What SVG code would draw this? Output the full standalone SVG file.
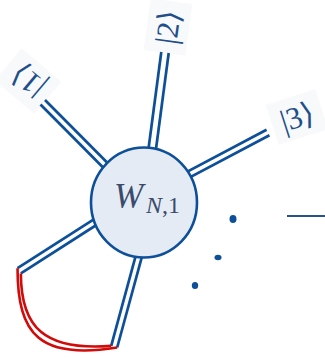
<svg xmlns="http://www.w3.org/2000/svg" width="325" height="358" viewBox="0 0 325 358">
<style>
.leg{stroke:#0d4f98;stroke-width:2.7;fill:none;stroke-linecap:butt}
.red{stroke:#d10a0a;stroke-width:2.6;fill:none}
.lbl{font-family:"Liberation Serif","DejaVu Serif",serif;font-size:31px;fill:#1e4f8a;text-anchor:middle;dominant-baseline:central}
.lbg{fill:#f8f9fa}
.dot{fill:#0d4f98}
</style>
<rect width="325" height="358" fill="#ffffff"/>
<g id="labels">
<g id="label1" transform="translate(28,81) rotate(-140)"><rect class="lbg" x="-26" y="-21" width="52" height="42"/><text class="lbl" x="0" y="0">|1⟩</text></g>
<g id="label2" transform="translate(168,27) rotate(-82)"><rect class="lbg" x="-26" y="-21" width="52" height="42"/><text class="lbl" x="0" y="0">|2⟩</text></g>
<g id="label3" transform="translate(297,117) rotate(-18)"><rect class="lbg" x="-26" y="-21" width="52" height="42"/><text class="lbl" x="0" y="0">|3⟩</text></g>
</g>
<g id="connectors">
<line class="leg" x1="45.0" y1="99.98" x2="122.26" y2="177.73"/>
<line class="leg" x1="40.49" y1="104.52" x2="117.74" y2="182.27"/>
<line class="leg" x1="168.7" y1="53.0" x2="150.5" y2="190.5"/>
<line class="leg" x1="161.3" y1="52.0" x2="143.1" y2="189.5"/>
<line class="leg" x1="266.55" y1="129.76" x2="158.55" y2="186.86"/>
<line class="leg" x1="269.45" y1="135.24" x2="161.45" y2="192.34"/>
<line class="leg" x1="17.53" y1="268.19" x2="113.33" y2="206.79"/>
<line class="leg" x1="20.87" y1="273.41" x2="116.67" y2="212.01"/>
<line class="leg" x1="111.21" y1="345.88" x2="141.61" y2="234.18"/>
<line class="leg" x1="117.19" y1="347.52" x2="147.59" y2="235.82"/>
<path class="red" d="M17.53,268.19 C17.53,335 40,360 117.19,347.52"/>
<path class="red" d="M20.87,273.41 C20.87,328 45,351 111.21,345.88"/>
<line x1="287" y1="216" x2="325" y2="216" stroke="#2c5288" stroke-width="1.8"/>
</g>
<g id="node-W">
<ellipse cx="144" cy="202.5" rx="53" ry="55" fill="#e5ebf4" stroke="#0d4f98" stroke-width="2.6"/>
<text font-family="Liberation Serif, DejaVu Serif, serif" fill="#3a4b6c"><tspan x="114" y="208" font-size="35" font-style="italic">W</tspan><tspan x="146" y="213" font-size="24" font-style="italic">N</tspan><tspan font-size="24">,1</tspan></text>
</g>
<g id="dots">
<ellipse class="dot" cx="233" cy="219" rx="3.5" ry="4"/>
<ellipse class="dot" cx="218" cy="257.5" rx="3.5" ry="2.8"/>
<ellipse class="dot" cx="195" cy="285.5" rx="3.2" ry="3.6"/>
</g>
</svg>
